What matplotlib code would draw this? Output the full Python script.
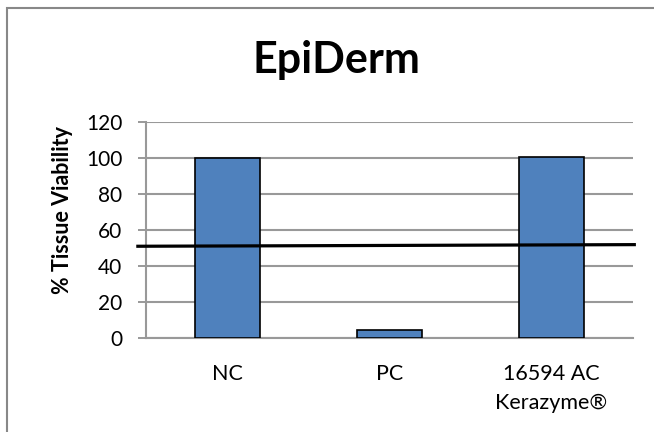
import matplotlib.pyplot as plt
from matplotlib.patches import Rectangle
import numpy as np

categories = ["NC", "PC", "16594 AC\nKerazyme®"]
viability = [100.0, 4.3, 100.4]
threshold_x = [-0.55, 2.51]
threshold_y = [50.8, 51.7]
yticks = [0, 20, 40, 60, 80, 100, 120]

plt.rcParams['font.family'] = ['Lato', 'DejaVu Sans']

fig = plt.figure(figsize=(6.54, 4.32), dpi=100)
ax = fig.add_axes([0.2232, 0.2183, 0.7442, 0.5])

x = np.arange(len(categories))
ax.bar(x, viability, width=0.4, color="#4f81bd", edgecolor="black", linewidth=1.2, zorder=3)
ax.plot(threshold_x, threshold_y, color="black", linewidth=2.3, clip_on=False, zorder=4)

ax.set_xlim(-0.5, 2.5)
ax.set_ylim(0, 120)
ax.set_yticks(yticks)
ax.set_xticks(x)
ax.set_xticklabels(categories, fontsize=15.5, linespacing=1.55)
ax.tick_params(axis="x", length=0, pad=19)
ax.tick_params(axis="y", length=6, width=1.2, color="#888888", labelsize=15, pad=11)
ax.yaxis.grid(True, color="#999999", linewidth=1.5, zorder=0)
ax.set_axisbelow(True)

for side in ["top", "right"]:
    ax.spines[side].set_visible(False)
ax.spines["left"].set_color("#999999")
ax.spines["left"].set_linewidth(1.5)
ax.spines["bottom"].set_color("#999999")
ax.spines["bottom"].set_linewidth(1.5)

ax.set_ylabel("% Tissue Viability", fontsize=15.5, fontweight="bold")
ax.yaxis.set_label_coords(-0.15, 0.59)
fig.text(0.515, 0.86, "EpiDerm", ha="center", va="center", fontsize=31, fontweight="bold")

fig.patches.append(Rectangle((7 / 654, -0.1), 1.1, 1 - 8 / 432 + 0.1, transform=fig.transFigure,
                             fill=False, edgecolor="#888888", linewidth=1.5))

fig.savefig("out.png", dpi=100)
